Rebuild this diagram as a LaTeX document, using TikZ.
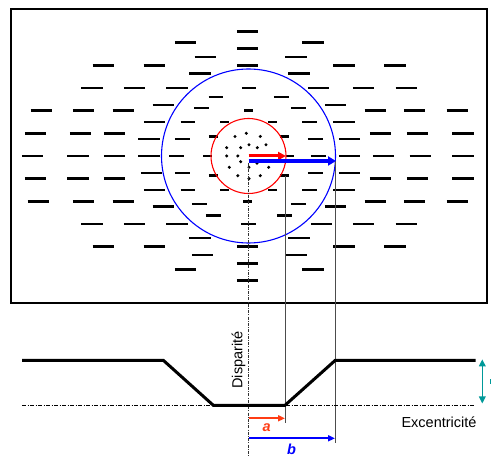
\documentclass[tikz,border=0pt]{standalone}
\usepackage{fontspec}
\setmainfont{Liberation Sans}
\usetikzlibrary{arrows.meta}
\definecolor{arrred}{RGB}{255,0,0}
\definecolor{labred}{RGB}{255,60,20}
\definecolor{tealc}{RGB}{0,153,153}
\tikzset{
  barline/.style={line width=2.7pt,black,line cap=butt},
  guideline/.style={line width=0.8pt,black!70},
  centerline/.style={line width=0.7pt,black!80,dash pattern=on 3pt off 1.2pt on 1pt off 1.2pt},
  baseline/.style={line width=0.6pt,black,dash pattern=on 4pt off 1.5pt on 1pt off 1.5pt},
  dotc/.style={fill=black,circle,inner sep=0pt,minimum size=3.4pt},
  lab/.style={font=\fontsize{14.5}{16}\selectfont,inner sep=0pt}
}
\begin{document}
\begin{tikzpicture}[x=1pt,y=-1pt]
\useasboundingbox (0,0) rectangle (491,457);
% frame
\draw[line width=2.2pt] (11,9) rectangle (487,303);
% bars (3x units)
\begin{scope}[x=0.33333pt,y=-0.33333pt]
\foreach \cx/\cy/\w in {
743/95/64,
557/128/64,939/128/64,
743/146/64,
616/171/64,888/171/64,
310/197/64,463/197/64,743/197/64,1032/197/64,1185/197/64,
600/221/64,897/221/64,
276/264/64,404/264/64,531/264/64,747/264/42,956/264/64,1091/264/64,1219/264/64,
648/291/44,844/291/44,
490/315/64,1007/315/64,
605/324/44,895/324/44,
124/332/64,251/332/64,370/332/64,746/332/27,1126/332/64,1244/332/64,1372/332/64,
464/366/64,564/366/44,674/366/27,818/366/27,929/366/44,1032/366/64,
107/400/64,242/400/64,344/400/64,1142/400/64,1253/400/64,1389/400/64,
640/409/26,853/409/26,
447/417/64,547/417/44,946/417/44,1049/417/64,
98/468/64,234/468/64,344/468/64,447/468/64,530/468/44,623/468/26,870/468/26,955/468/44,1049/468/64,1151/468/64,1261/468/64,1389/468/64,
455/519/64,547/519/44,946/519/44,1049/519/64,
640/527/26,853/527/26,
107/536/64,234/536/64,344/536/64,1142/536/64,1253/536/64,1389/536/64,
464/570/64,564/570/44,674/570/27,818/570/27,929/570/44,1032/570/64,
115/604/64,251/604/64,370/604/64,743/604/27,1126/604/64,1244/604/64,1372/604/64,
598/612/44,895/612/44,
490/620/64,1007/620/64,
640/647/44,853/647/44,
276/672/64,404/672/64,531/672/64,746/672/44,965/672/64,1091/672/64,1219/672/64,
600/714/64,897/714/64,
310/740/64,463/740/64,743/740/64,1032/740/64,1185/740/64,
608/765/64,888/765/64,
743/791/64,
557/808/64,939/808/64,
743/842/64}
  \draw[barline] ({\cx-\w/2},\cy) -- ({\cx+\w/2},\cy);
\end{scope}
% coordinates
\coordinate (O) at (248.5,156);
\coordinate (Ob) at (248.5,161);
\coordinate (cTop) at (248.5,163);
\coordinate (cBot) at (248.5,457);
\coordinate (aTip) at (286,156);
\coordinate (bTip) at (336,161);
\coordinate (aTop) at (285,176);
\coordinate (aBot) at (285,423);
\coordinate (bTop) at (335.3,161);
\coordinate (bBot) at (335.3,443);
% circles
\draw[blue,line width=1.1pt] (O) circle[radius=87];
\draw[arrred,line width=1.1pt] (O) circle[radius=37.5];
% dots
\foreach \dx/\dy [count=\i] in {246.3/133.3,235/136.5,260.3/136.5,226.7/147.7,240.7/147.7,249/144.8,257.3/147.7,266/144.8,226.7/156,237.8/156,240.7/161.7,257/163.2,229.3/167.3,249/167.3,268.7/167.3,237.8/175.7,260.3/175.7,249/178.7}
  \node[dotc] (d\i) at (\dx,\dy) {};
% vertical guide lines
\draw[centerline] (cTop) -- (cBot);
\draw[guideline] (aTop) -- (aBot);
\draw[guideline] (bTop) -- (bBot);
% top arrows
\draw[arrred,line width=3pt,-{Triangle[length=8pt,width=8pt]}] (O) -- (aTip);
\draw[blue,line width=4pt,-{Triangle[length=8pt,width=9pt]}] (Ob) -- (bTip);
% profile
\coordinate (p1) at (22,360.3);
\coordinate (p2) at (163.3,360.3);
\coordinate (p3) at (213.3,405.3);
\coordinate (p4) at (285,405.3);
\coordinate (p5) at (335.3,360.3);
\coordinate (p6) at (475.7,360.3);
\coordinate (bl1) at (22,405.3);
\coordinate (bl2) at (475,405.3);
\draw[baseline] (bl1) -- (bl2);
\draw[line width=3pt,line join=miter] (p1) -- (p2) -- (p3) -- (p4) -- (p5) -- (p6);
% labels
\node[lab,rotate=90] (disp) at (238.5,360) {Disparité};
\node[lab] (exc) at (439,422.5) {Excentricité};
% a and b arrows
\coordinate (ra1) at (249.3,418.3);
\coordinate (ra2) at (285,418.3);
\coordinate (ba1) at (249.3,438.3);
\coordinate (ba2) at (335,438.3);
\draw[labred,line width=2pt,-{Triangle[length=7pt,width=6pt]}] (ra1) -- (ra2);
\draw[blue,line width=2pt,-{Triangle[length=7pt,width=6pt]}] (ba1) -- (ba2);
\node[lab,text=labred,font=\fontsize{14.5}{16}\selectfont\bfseries\itshape] (la) at (266.7,427.5) {a};
\node[lab,text=blue,font=\fontsize{14.5}{16}\selectfont\bfseries\itshape] (lb) at (291.5,449.5) {b};
% teal double arrow
\coordinate (t1) at (482.3,359.3);
\coordinate (t2) at (482.3,403.5);
\draw[tealc,line width=1.6pt,{Triangle[length=7pt,width=6.5pt]}-{Triangle[length=7pt,width=6.5pt]}] (t1) -- (t2);
\coordinate (m1) at (490.3,379.5);
\coordinate (m2) at (490.3,384);
\draw[tealc,line width=0.8pt] (m1) -- (m2);
\end{tikzpicture}
\end{document}
